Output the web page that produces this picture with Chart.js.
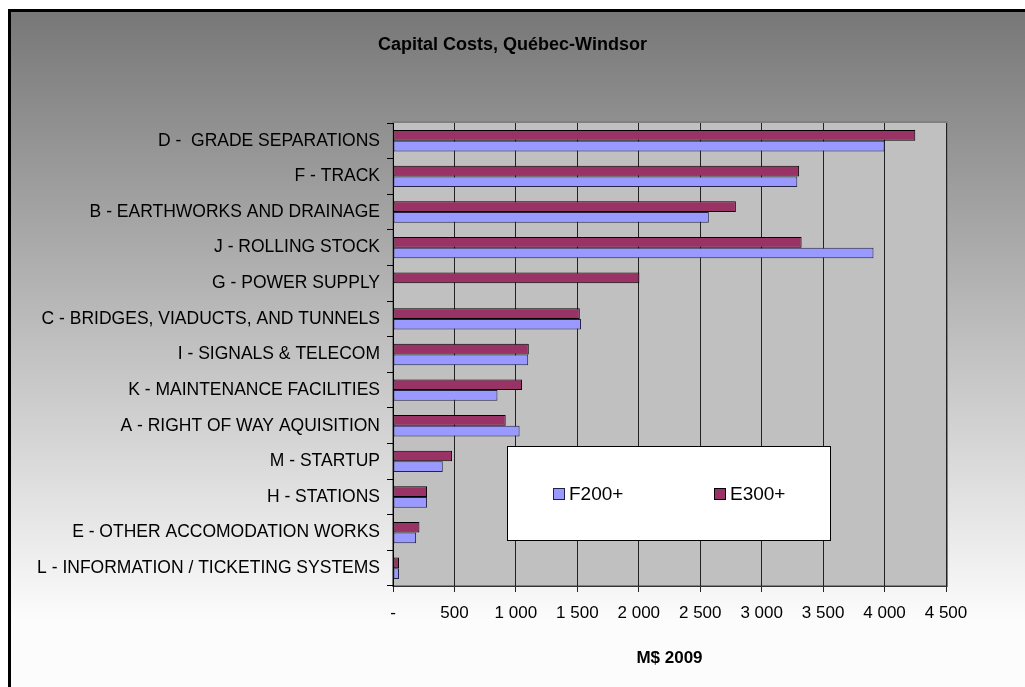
<!DOCTYPE html>
<html>
<head>
<meta charset="utf-8">
<script src="https://cdn.jsdelivr.net/npm/chart.js@4/dist/chart.umd.min.js"></script>
<style>
  html, body { margin: 0; padding: 0; background: #fff; }
  #wrap { width: 1025px; height: 687px; }
</style>
</head>
<body>
<div id="wrap"><canvas id="capex"></canvas></div>
<script>
const categories = [
  "D -  GRADE SEPARATIONS",
  "F - TRACK",
  "B - EARTHWORKS AND DRAINAGE",
  "J - ROLLING STOCK",
  "G - POWER SUPPLY",
  "C - BRIDGES, VIADUCTS, AND TUNNELS",
  "I - SIGNALS & TELECOM",
  "K - MAINTENANCE FACILITIES",
  "A - RIGHT OF WAY AQUISITION",
  "M - STARTUP",
  "H - STATIONS",
  "E - OTHER ACCOMODATION WORKS",
  "L - INFORMATION / TICKETING SYSTEMS"
];
const f200 = [4000, 3290, 2570, 3910, 0, 1530, 1100, 850, 1030, 405, 277, 188, 49];
const e300 = [4250, 3305, 2790, 3325, 2005, 1520, 1105, 1050, 917, 481, 277, 215, 49];
const xTicks = [0, 500, 1000, 1500, 2000, 2500, 3000, 3500, 4000, 4500];

const FONT = "'Liberation Sans', Arial, sans-serif";

/* page gradient, frame, plot area fill */
const backdrop = {
  id: 'backdrop',
  beforeDraw(chart) {
    const {ctx, chartArea: a, width, height} = chart;
    ctx.save();
    const g = ctx.createLinearGradient(0, 10, 0, 620);
    g.addColorStop(0, '#777777');
    g.addColorStop(1, '#fcfcfc');
    ctx.fillStyle = '#ffffff';
    ctx.fillRect(0, 0, width, height);
    ctx.fillStyle = g;
    ctx.fillRect(10, 11, width, height);
    ctx.strokeStyle = '#000';
    ctx.lineWidth = 3;
    ctx.strokeRect(9.5, 10.5, width + 20, height + 20);

    ctx.fillStyle = '#c0c0c0';
    ctx.fillRect(a.left, a.top, a.right - a.left, a.bottom - a.top);
    ctx.strokeStyle = '#808080';
    ctx.lineWidth = 2;
    ctx.strokeRect(a.left, a.top - 1, a.right - a.left + 1, a.bottom - a.top + 1);
    ctx.restore();
  }
};

/* white legend box inside the plot */
const legendBox = {
  id: 'legendBox',
  afterDraw(chart) {
    const {ctx} = chart;
    const x = 507, y = 446, w = 323, h = 94;
    ctx.save();
    ctx.fillStyle = '#ffffff';
    ctx.fillRect(x, y, w, h);
    ctx.strokeStyle = '#000';
    ctx.lineWidth = 1;
    ctx.strokeRect(x + 0.5, y + 0.5, w, h);
    const order = [1, 0]; // F200+ first, then E300+
    const xs = [553, 714];
    ctx.font = '19px ' + FONT;
    ctx.textBaseline = 'middle';
    order.forEach((di, i) => {
      const ds = chart.data.datasets[di];
      ctx.fillStyle = ds.backgroundColor;
      ctx.fillRect(xs[i] + 0.5, 488.5, 11, 11);
      ctx.strokeStyle = ds.borderColor;
      ctx.strokeRect(xs[i] + 0.5, 488.5, 11, 11);
      ctx.fillStyle = '#000';
      ctx.fillText(ds.label, xs[i] + 16, 495);
    });
    ctx.restore();
  }
};

new Chart(document.getElementById('capex'), {
  type: 'bar',
  data: {
    labels: categories,
    datasets: [
      {
        label: 'E300+',
        data: e300,
        backgroundColor: '#993366',
        borderColor: '#000000',
        borderWidth: 1,
        borderSkipped: false
      },
      {
        label: 'F200+',
        data: f200,
        backgroundColor: '#9999ff',
        borderColor: '#222244',
        borderWidth: 1,
        borderSkipped: false
      }
    ]
  },
  options: {
    indexAxis: 'y',
    responsive: true,
    maintainAspectRatio: false,
    animation: false,
    categoryPercentage: 0.6,
    barPercentage: 1.0,
    layout: { padding: 0 },
    plugins: {
      legend: { display: false },
      tooltip: { enabled: false },
      title: {
        display: true,
        text: 'Capital Costs, Québec-Windsor',
        color: '#000',
        font: { family: FONT, size: 18, weight: 'bold' },
        padding: { top: 34, bottom: 67.4 }
      }
    },
    scales: {
      x: {
        min: 0,
        max: 4500,
        afterBuildTicks(scale) {
          scale.ticks = xTicks.map(v => ({ value: v }));
        },
        afterFit(scale) { scale.height = 101; },
        grid: { color: '#222', lineWidth: 1, tickLength: 6, drawTicks: true },
        border: { color: '#333', width: 1 },
        ticks: {
          color: '#000',
          padding: 11,
          maxRotation: 0,
          autoSkip: false,
          font: { family: FONT, size: 17 },
          callback(v) {
            if (v === 0) return '-';
            return String(v).replace(/\B(?=(\d{3})+(?!\d))/g, ' ');
          }
        },
        title: {
          display: true,
          text: 'M$ 2009',
          color: '#000',
          font: { family: FONT, size: 17, weight: 'bold' },
          padding: { top: 0, bottom: 18 }
        }
      },
      y: {
        afterFit(scale) { scale.width = 393; },
        grid: {
          offset: true,
          drawOnChartArea: false,
          drawTicks: true,
          tickLength: 6,
          color: '#000'
        },
        border: { color: '#000', width: 1 },
        ticks: {
          color: '#000',
          padding: 7,
          autoSkip: false,
          font: { family: FONT, size: 17.5 }
        }
      },
      // empty right-hand axis: reserves the margin right of the plot
      yRight: {
        type: 'category',
        position: 'right',
        afterFit(scale) { scale.width = 79; },
        grid: { display: false },
        border: { display: false },
        ticks: { display: false }
      }
    }
  },
  plugins: [backdrop, legendBox]
});
</script>
</body>
</html>
